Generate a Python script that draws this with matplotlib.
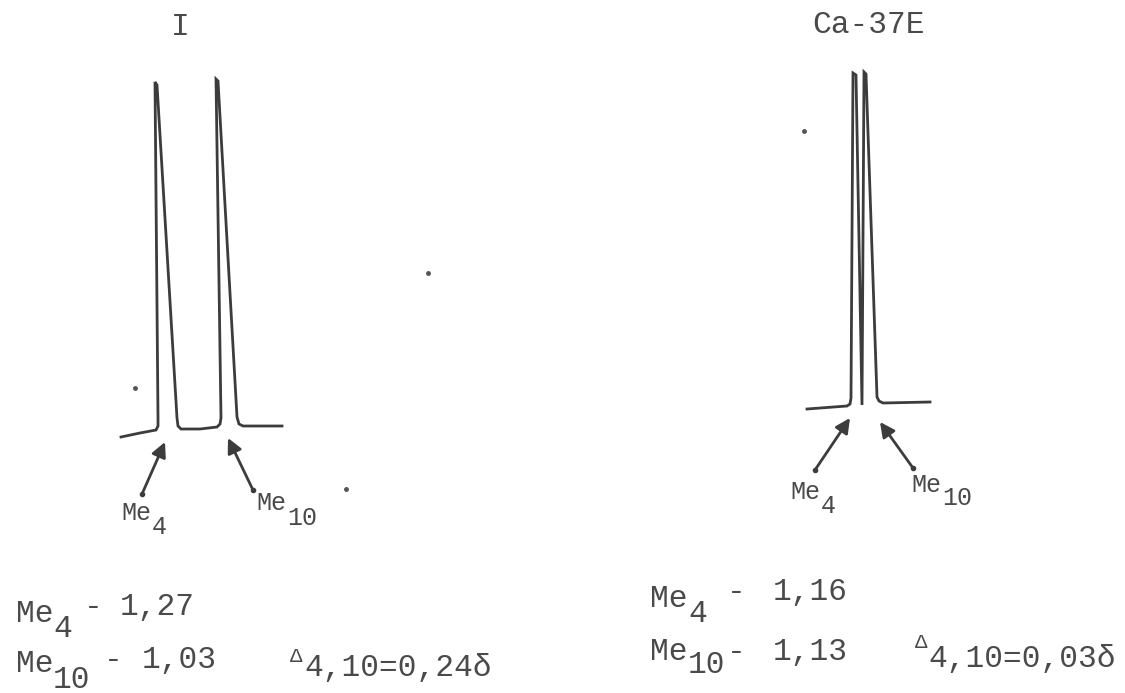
#redraw of two PMR spectra (Me4 / Me10 signals) from a scanned page
import matplotlib.pyplot as plt

# spectrum traces in page pixels (x to the right, y downwards)
trace_I_x = [121, 140, 156, 158, 158, 155, 157, 177, 178, 181, 200, 217, 220, 221, 216, 218, 237, 239, 243, 282]
trace_I_y = [437, 433, 430, 426, 418, 82, 85, 418, 426, 429, 429, 427, 424, 418, 79, 81, 417, 424, 426, 426]
trace_Ca_x = [807, 847, 850, 851, 853, 856, 862, 864, 866, 877, 879, 883, 930]
trace_Ca_y = [409, 406, 404, 398, 73, 75, 405, 72, 74, 397, 401, 403, 402]

# specks of dirt on the scan
speck_x = [135, 804, 428, 346]
speck_y = [388, 131, 273, 489]

titles = ["I", "Ca-37E"]
me4_shift = ["1,27", "1,16"]
me10_shift = ["1,03", "1,13"]
delta_shift = ["0,24", "0,03"]

INK = '#3c3c3c'
TXT = '#4a4a4a'
FONT = 'Liberation Mono'
BIG = 22.5
LBL = 18


def put(ax, s, x, y, size=BIG):
    ax.text(x, y, s, fontsize=size, family=FONT, color=TXT, va='baseline', ha='left')


def arrow(ax, tail, tip):
    ax.annotate('', xy=tip, xytext=tail,
                arrowprops=dict(arrowstyle='-|>', color=INK, lw=2, mutation_scale=22,
                                shrinkA=0, shrinkB=0))
    ax.plot(*tail, 'o', ms=3, color=INK)


fig = plt.figure(figsize=(11.25, 6.93), dpi=100)
ax = fig.add_axes([0, 0, 1, 1])
ax.set_xlim(0, 1125)
ax.set_ylim(693, 0)
ax.axis('off')

ax.plot(trace_I_x, trace_I_y, color=INK, lw=2, solid_joinstyle='miter')
ax.plot(trace_Ca_x, trace_Ca_y, color=INK, lw=2, solid_joinstyle='miter')
ax.plot(speck_x, speck_y, 'o', ms=2.5, color='#555555', ls='none')

# titles
ax.text(180, 35, titles[0], fontsize=BIG, family=FONT, color=TXT, va='baseline', ha='center')
put(ax, titles[1], 812, 33)

# arrows with their labels
arrow(ax, (142, 494), (165, 442))
arrow(ax, (253, 490), (228, 438))
arrow(ax, (815, 470), (850, 418))
arrow(ax, (913, 468), (880, 422))
put(ax, "Me", 121, 520, LBL); put(ax, "4", 152, 534, LBL)
put(ax, "Me", 256, 510, LBL); put(ax, "10", 287, 525, LBL)
put(ax, "Me", 790, 499, LBL); put(ax, "4", 821, 513, LBL)
put(ax, "Me", 911, 492, LBL); put(ax, "10", 942, 505, LBL)

# chemical shifts under spectrum I (typed slightly out of line)
put(ax, "Me", 16, 622); put(ax, "4", 53, 637)
put(ax, "-", 84, 615); put(ax, me4_shift[0], 120, 615)
put(ax, "Me", 16, 672); put(ax, "10", 53, 688)
put(ax, "-", 104, 668); put(ax, me10_shift[0], 142, 668)
put(ax, "\u0394", 290, 662, 15)
put(ax, "4,10=" + delta_shift[0] + "\u03b4", 304, 676)

# chemical shifts under spectrum Ca-37E
put(ax, "Me", 650, 607); put(ax, "4", 688, 622)
put(ax, "-", 727, 600); put(ax, me4_shift[1], 773, 600)
put(ax, "Me", 650, 660); put(ax, "10", 688, 673)
put(ax, "-", 727, 660); put(ax, me10_shift[1], 773, 660)
put(ax, "\u0394", 915, 648, 15)
put(ax, "4,10=" + delta_shift[1] + "\u03b4", 928, 667)

fig.savefig('out.png', dpi=100, facecolor='white')
